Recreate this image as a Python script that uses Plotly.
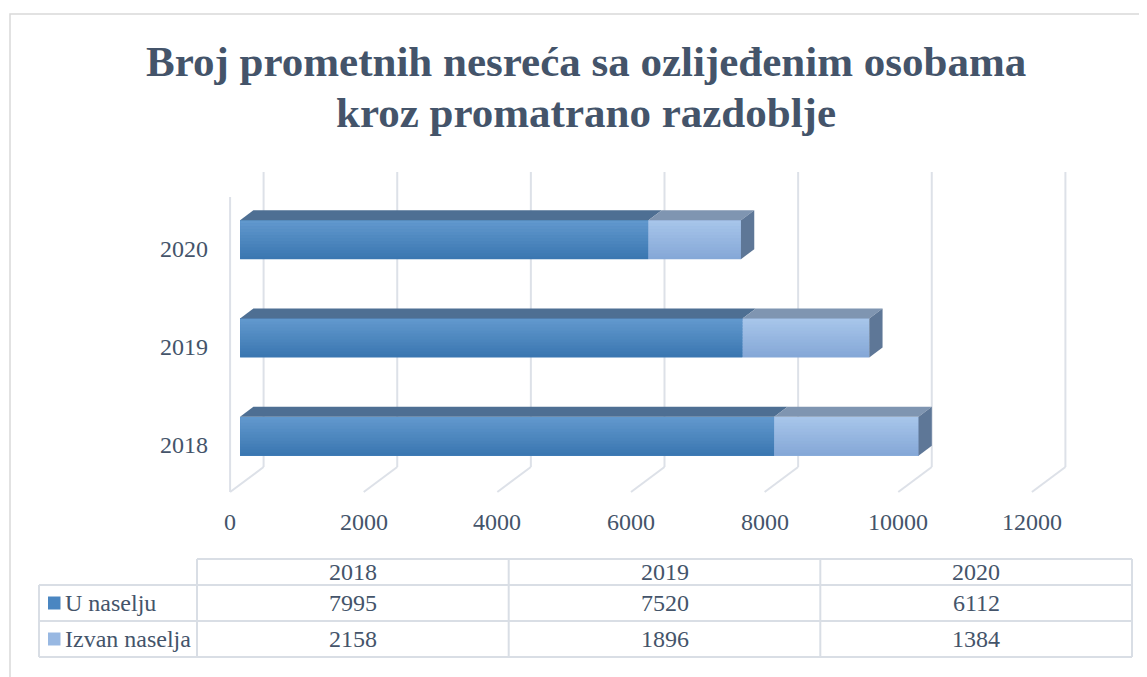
import plotly.graph_objects as go

# ---------------- data ----------------
years = ["2018", "2019", "2020"]
u_naselju = [7995, 7520, 6112]
izvan_naselja = [2158, 1896, 1384]
series_names = ["U naselju", "Izvan naselja"]
x_ticks = [0, 2000, 4000, 6000, 8000, 10000, 12000]
title_lines = ["Broj prometnih nesreća sa ozlijeđenim osobama",
               "kroz promatrano razdoblje"]

# ---------------- style / layout ----------------
# page body has an 8px default margin -> work in window pixels, shift by OFF
OFF = 8
WIN_W, WIN_H = 1147, 677
W, H = WIN_W - OFF, WIN_H - OFF
Lr, Tr = 200, 161            # plot area top-left in window pixels
PW, PH = 882, 349
L, T = Lr - OFF, Tr - OFF
R, B = W - L - PW, H - T - PH
XR = [-600, 12600]
YR = [-0.75, 2.8]
sx = PW / (XR[1] - XR[0])
sy = PH / (YR[1] - YR[0])

FONT = "Liberation Serif"
TXT = "#44546A"
GRID = "#DDE1E8"

def px2x(p):
    return XR[0] + (p - Lr) / sx

def px2y(p):
    return YR[1] - (p - Tr) / sy

def ddx(p):
    return p / sx

def ddy(p):
    return p / sy

def paper_x(p):
    return (p - Lr) / PW

def paper_y(p):
    return 1 - (p - Tr) / PH

BW = 39 / sy            # bar thickness (category units)
DXF, DYF = 13.3, 10.0   # 3D depth of the bars (px)
FRONT_DX, BACK_DX = -10.0, 23.5
FLOOR_FRONT_PX, FLOOR_BACK_PX = 492, 467
GRID_TOP_PX, WALL_TOP_PX = 172, 197

dark = dict(front="#4A86C1", top_g="#6198CD", bot_g="#3B77B1", cap="#4E6F93", side="#5A7494")
light = dict(front="#98B8E2", top_g="#A7C5EA", bot_g="#85A8D7", cap="#7F95B1", side="#5E7797")

def hex2rgb(h):
    h = h.lstrip("#")
    return tuple(int(h[i:i + 2], 16) for i in (0, 2, 4))

def mix(c1, c2, t):
    a, b = hex2rgb(c1), hex2rgb(c2)
    return "rgb(%d,%d,%d)" % tuple(round(a[i] + (b[i] - a[i]) * t) for i in range(3))

idx = list(range(len(years)))
fig = go.Figure()
fig.add_trace(go.Bar(y=idx, x=u_naselju, orientation="h", width=BW, name=series_names[0],
                     marker=dict(color=dark["front"], line=dict(width=0))))
fig.add_trace(go.Bar(y=idx, x=izvan_naselja, orientation="h", width=BW, name=series_names[1],
                     marker=dict(color=light["front"], line=dict(width=0))))

shapes = []
annotations = []

# ---- back gridlines, floor diagonals, left wall edge ----
yfb, yff = px2y(FLOOR_BACK_PX), px2y(FLOOR_FRONT_PX)
for v in x_ticks:
    xb = v + ddx(BACK_DX)
    xf = v + ddx(FRONT_DX)
    shapes.append(dict(type="line", xref="x", yref="y", x0=xb, x1=xb, y0=yfb, y1=px2y(GRID_TOP_PX),
                       line=dict(color=GRID, width=2), layer="below"))
    shapes.append(dict(type="line", xref="x", yref="y", x0=xb, x1=xf, y0=yfb, y1=yff,
                       line=dict(color=GRID, width=2), layer="below"))
x0f = x_ticks[0] + ddx(FRONT_DX)
shapes.append(dict(type="line", xref="x", yref="y", x0=x0f, x1=x0f, y0=yff, y1=px2y(WALL_TOP_PX),
                   line=dict(color=GRID, width=2), layer="below"))

# ---- 3D bar faces ----
N = 13
for i in idx:
    segs = [(0, u_naselju[i], dark), (u_naselju[i], izvan_naselja[i], light)]
    yt, yb = i + BW / 2, i - BW / 2
    for base, val, st in segs:
        x0, x1 = base, base + val
        # gradient on front face
        for k in range(N):
            ya = yt - k * BW / N
            yb2 = max(yb, ya - BW / N - ddy(0.6))
            shapes.append(dict(type="rect", xref="x", yref="y", x0=x0, x1=x1, y0=yb2, y1=ya,
                               fillcolor=mix(st["top_g"], st["bot_g"], k / (N - 1)),
                               line=dict(width=0), layer="above"))
        # top face
        p = "M %f,%f L %f,%f L %f,%f L %f,%f Z" % (
            x0, yt, x1, yt, x1 + ddx(DXF), yt + ddy(DYF), x0 + ddx(DXF), yt + ddy(DYF))
        shapes.append(dict(type="path", xref="x", yref="y", path=p, fillcolor=st["cap"],
                           line=dict(width=0), layer="above"))
    # side face at the end of the stack
    xe = u_naselju[i] + izvan_naselja[i]
    p = "M %f,%f L %f,%f L %f,%f L %f,%f Z" % (
        xe, yb, xe, yt, xe + ddx(DXF), yt + ddy(DYF), xe + ddx(DXF), yb + ddy(DYF))
    shapes.append(dict(type="path", xref="x", yref="y", path=p, fillcolor=light["side"],
                       line=dict(width=0), layer="above"))

# ---- axis labels ----
for i, yr in zip(idx, years):
    annotations.append(dict(xref="x", yref="y", x=px2x(210), y=i, text=yr, showarrow=False,
                            xanchor="right", yanchor="middle", yshift=-9,
                            font=dict(family=FONT, size=24, color=TXT)))
for v in x_ticks:
    annotations.append(dict(xref="x", yref="y", x=v + ddx(FRONT_DX), y=yff, text=str(v),
                            showarrow=False, xanchor="center", yanchor="middle", yshift=-30,
                            font=dict(family=FONT, size=24, color=TXT)))

# ---- title ----
for line, ypx in zip(title_lines, [61, 112]):
    annotations.append(dict(xref="paper", yref="paper", x=paper_x(586), y=paper_y(ypx),
                            text="<b>%s</b>" % line, showarrow=False, xanchor="center",
                            yanchor="middle", font=dict(family=FONT, size=43, color=TXT)))

# ---- data table ----
col_edges = [197, 508.7, 820.3, 1132]
row_edges = [559, 585, 621, 657]
label_left = 39
TL = dict(color="#D9DEE5", width=2)

def hline(xa, xb, yp):
    shapes.append(dict(type="line", xref="paper", yref="paper", x0=paper_x(xa), x1=paper_x(xb),
                       y0=paper_y(yp), y1=paper_y(yp), line=TL))

def vline(xp, ya, yb):
    shapes.append(dict(type="line", xref="paper", yref="paper", x0=paper_x(xp), x1=paper_x(xp),
                       y0=paper_y(ya), y1=paper_y(yb), line=TL))

hline(col_edges[0], col_edges[-1], row_edges[0])
for r in row_edges[1:]:
    hline(label_left, col_edges[-1], r)
vline(label_left, row_edges[1], row_edges[-1])
for c in col_edges:
    vline(c, row_edges[0], row_edges[-1])

for j, yr in enumerate(years):
    cx = (col_edges[j] + col_edges[j + 1]) / 2
    annotations.append(dict(xref="paper", yref="paper", x=paper_x(cx),
                            y=paper_y((row_edges[0] + row_edges[1]) / 2), text=yr, showarrow=False,
                            xanchor="center", yanchor="middle", font=dict(family=FONT, size=24, color=TXT)))
    for r, vals in enumerate([u_naselju, izvan_naselja]):
        annotations.append(dict(xref="paper", yref="paper", x=paper_x(cx),
                                y=paper_y((row_edges[r + 1] + row_edges[r + 2]) / 2),
                                text=str(vals[j]), showarrow=False, xanchor="center", yanchor="middle",
                                font=dict(family=FONT, size=24, color=TXT)))

key_cols = [dark["front"], light["front"]]
for r, name in enumerate(series_names):
    cy = (row_edges[r + 1] + row_edges[r + 2]) / 2
    shapes.append(dict(type="rect", xref="paper", yref="paper", x0=paper_x(48), x1=paper_x(60.5),
                       y0=paper_y(cy + 6.5), y1=paper_y(cy - 6.5), fillcolor=key_cols[r],
                       line=dict(width=0)))
    annotations.append(dict(xref="paper", yref="paper", x=paper_x(63), y=paper_y(cy), text=name,
                            showarrow=False, xanchor="left", yanchor="middle",
                            font=dict(family=FONT, size=24, color=TXT)))

# ---- chart border ----
shapes.append(dict(type="path", xref="paper", yref="paper",
                   path="M %f,%f L %f,%f L %f,%f" % (paper_x(10), paper_y(WIN_H + 5), paper_x(10), paper_y(14),
                                                     paper_x(WIN_W + 5), paper_y(14)),
                   line=dict(color="#D9D9D9", width=1.5)))

fig.update_layout(
    width=W, height=H, margin=dict(l=L, r=R, t=T, b=B, autoexpand=False),
    paper_bgcolor="white", plot_bgcolor="white", barmode="stack", showlegend=False,
    xaxis=dict(range=XR, showgrid=False, zeroline=False, showticklabels=False, showline=False,
               fixedrange=True),
    yaxis=dict(range=YR, showgrid=False, zeroline=False, showticklabels=False, showline=False,
               fixedrange=True),
    shapes=shapes, annotations=annotations,
)

fig.write_html("out.html")
